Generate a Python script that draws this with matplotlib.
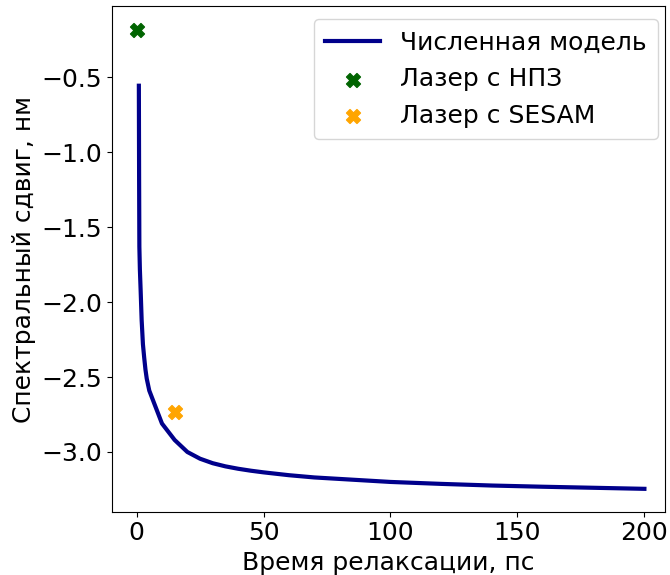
import matplotlib
matplotlib.use("Agg")
import matplotlib.pyplot as plt

# Numerical model: relaxation time (ps) vs spectral shift (nm)
relax_time = [0.9, 1.0, 1.1, 1.3, 1.6, 2.0, 2.5, 3.0, 3.5, 4.0, 5.0, 10, 15, 20, 25, 30, 35,
              40, 45, 50, 60, 70, 80, 90, 100, 120, 140, 160, 180, 200]
shift_model = [-0.555, -1.18, -1.63, -1.78, -1.92, -2.12, -2.28, -2.37, -2.45, -2.51, -2.59,
               -2.81, -2.92, -3.0, -3.045, -3.075, -3.096, -3.112, -3.125, -3.136, -3.155,
               -3.17, -3.18, -3.19, -3.20, -3.213, -3.224, -3.232, -3.239, -3.246]

# Experimental points
npz_time = [0]
npz_shift = [-0.18]
sesam_time = [15]
sesam_shift = [-2.735]

labels = ["Численная модель", "Лазер с НПЗ", "Лазер с SESAM"]

plt.rcParams['font.family'] = ['DejaVu Sans']
fig = plt.figure(figsize=(6.7, 5.75), dpi=100)
ax = fig.add_axes([0.1667, 0.110, 0.8258, 0.879])

ax.plot(relax_time, shift_model, color='darkblue', lw=3, label=labels[0])
ax.scatter(npz_time, npz_shift, marker='X', s=100, color='darkgreen', label=labels[1])
ax.scatter(sesam_time, sesam_shift, marker='X', s=100, color='orange', label=labels[2])

ax.set_xlim(-9.8, 208.1)
ax.set_ylim(-3.399, -0.025)
ax.set_xticks([0, 50, 100, 150, 200])
ax.set_yticks([-3.0, -2.5, -2.0, -1.5, -1.0, -0.5])
ax.tick_params(labelsize=18)
ax.set_xlabel("Время релаксации, пс", fontsize=18)
ax.set_ylabel("Спектральный сдвиг, нм", fontsize=18)
ax.legend(loc='upper right', bbox_to_anchor=(0.9873, 0.9743), borderaxespad=0,
          fontsize=18, handlelength=2.2, borderpad=0.45)

fig.savefig("out.png", dpi=100)
